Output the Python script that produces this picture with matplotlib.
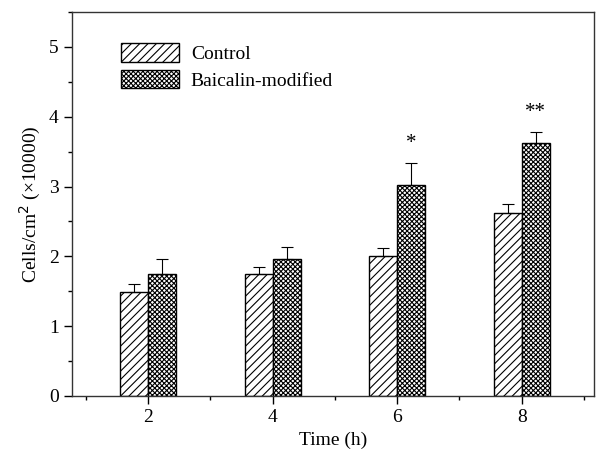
import numpy as np
import matplotlib.pyplot as plt
from matplotlib.ticker import MultipleLocator

plt.rcParams['font.family'] = ['Liberation Serif', 'DejaVu Serif']
plt.rcParams['hatch.linewidth'] = 0.8

times = [2, 4, 6, 8]
control = [1.49, 1.75, 2.01, 2.62]
control_err = [0.11, 0.10, 0.11, 0.13]
baicalin = [1.75, 1.96, 3.02, 3.62]
baicalin_err = [0.21, 0.18, 0.31, 0.16]
marks = ['', '', '*', '**']

fig = plt.figure(figsize=(5.97, 4.61), dpi=100)
ax = fig.add_axes([0.1206, 0.141, 0.8744, 0.833])

x = np.array(times)
w = 0.45
ax.bar(x - w / 2, control, w, color='white', edgecolor='black', hatch='////',
       linewidth=1.0, label='Control')
ax.bar(x + w / 2, baicalin, w, color='white', edgecolor='black', hatch='xxxxxxx',
       linewidth=1.0, label='Baicalin-modified')
ax.errorbar(x - w / 2, control, yerr=[np.zeros(4), control_err], fmt='none',
            ecolor='black', elinewidth=0.8, capsize=4, capthick=0.8)
ax.errorbar(x + w / 2, baicalin, yerr=[np.zeros(4), baicalin_err], fmt='none',
            ecolor='black', elinewidth=0.8, capsize=4, capthick=0.8)

# significance marks
for xi, b, e, m in zip(x, baicalin, baicalin_err, marks):
    if m:
        ax.text(xi + w / 2, b + e + 0.28, m, ha='center', va='center', fontsize=15)

ax.set_xlim(0.78, 9.16)
ax.set_ylim(0, 5.5)
ax.set_xticks(times)
ax.set_xticks([1, 3, 5, 7, 9], minor=True)
ax.yaxis.set_major_locator(MultipleLocator(1))
ax.yaxis.set_minor_locator(MultipleLocator(0.5))
ax.tick_params(which='major', direction='out', length=6, width=1, labelsize=14)
ax.tick_params(which='minor', direction='out', length=3, width=1)
for s in ax.spines.values():
    s.set_linewidth(1.0)
    s.set_color('#333333')

ax.set_xlabel('Time (h)', fontsize=14)
ax.set_ylabel('Cells/cm$^2$ (\u00d710000)', fontsize=14)

ax.legend(loc='upper left', bbox_to_anchor=(0.06, 0.965), frameon=False,
          fontsize=14, handlelength=3.0, handleheight=1.1, labelspacing=0.35,
          handletextpad=0.6)

plt.savefig('out.png')
